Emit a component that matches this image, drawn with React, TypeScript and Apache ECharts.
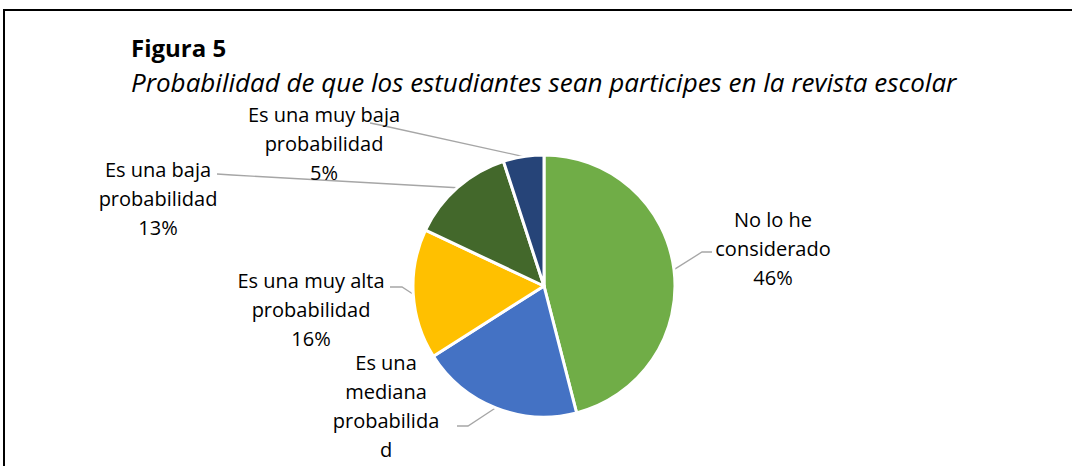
import React, { useEffect, useRef } from "react";
import * as echarts from "echarts";

const categories = [
  "No lo he considerado",
  "Es una mediana probabilidad",
  "Es una muy alta probabilidad",
  "Es una baja probabilidad",
  "Es una muy baja probabilidad",
];
const values = [46, 20, 16, 13, 5];
const labelTexts = [
  "No lo he\nconsiderado",
  "Es una\nmediana\nprobabilida\nd",
  "Es una muy alta\nprobabilidad",
  "Es una baja\nprobabilidad",
  "Es una muy baja\nprobabilidad",
];
// the reference crops the percentage of the "mediana" label off the bottom edge
const showPercent = [true, false, true, true, true];
const colors = ["#70AD47", "#4472C4", "#FFC000", "#43682B", "#264478"];
const titleText = "Figura 5";
const subtitleText =
  "Probabilidad de que los estudiantes sean participes en la revista escolar";

// label block centres and leader-line bends (layout only)
const labelPos = [
  [773, 248],
  [386, 406],
  [311, 309],
  [158, 198],
  [324, 143],
];
const lineBends = [
  [[702, 252], [712, 252]],
  [[468, 426], [457, 426]],
  [[402, 287], [390, 287]],
  [[232, 175], [217, 174]],
  [[380, 125], [370, 123]],
];

const FONT = "'Open Sans', 'Noto Sans', sans-serif";

export default function App() {
  const ref = useRef<HTMLDivElement>(null);
  useEffect(() => {
    if (!ref.current) return;
    const chart = echarts.init(ref.current, undefined, { renderer: "svg" });
    chart.setOption({
      animation: false,
      backgroundColor: "#ffffff",
      graphic: [
        {
          type: "polyline",
          shape: { points: [[4, 470], [4, 10], [1080, 10]] },
          style: { stroke: "#000", lineWidth: 2, fill: null },
          silent: true,
        },
        {
          type: "text",
          x: 131,
          y: 47,
          style: {
            text: titleText,
            font: `bold 24px ${FONT}`,
            fill: "#000",
            verticalAlign: "middle",
          },
        },
        {
          type: "text",
          x: 131,
          y: 82,
          style: {
            text: subtitleText,
            font: `italic 26px ${FONT}`,
            fill: "#000",
            verticalAlign: "middle",
          },
        },
      ],
      series: [
        {
          type: "pie",
          center: [544, 286],
          radius: 131,
          startAngle: 90,
          clockwise: true,
          avoidLabelOverlap: false,
          emphasis: { disabled: true },
          itemStyle: { borderColor: "#ffffff", borderWidth: 3 },
          label: {
            show: true,
            position: "outside",
            fontFamily: FONT,
            fontSize: 20,
            lineHeight: 29,
            color: "#000",
            align: "center",
            formatter: (p: any) =>
              showPercent[p.dataIndex]
                ? `${labelTexts[p.dataIndex]}\n${p.value}%`
                : labelTexts[p.dataIndex],
          },
          labelLine: {
            show: true,
            length: 10,
            length2: 10,
            lineStyle: { color: "#A6A6A6", width: 1.3 },
          },
          labelLayout: (params: any) => {
            const i = params.dataIndex;
            const start =
              params.labelLinePoints && params.labelLinePoints[0]
                ? params.labelLinePoints[0]
                : null;
            const res: any = {
              x: labelPos[i][0],
              y: labelPos[i][1],
              align: "center",
              verticalAlign: "middle",
            };
            if (start) res.labelLinePoints = [start, lineBends[i][0], lineBends[i][1]];
            return res;
          },
          data: categories.map((name, i) => ({
            name,
            value: values[i],
            itemStyle: { color: colors[i] },
          })),
        },
      ],
    });
    return () => chart.dispose();
  }, []);
  return (
    <div
      ref={ref}
      style={{ position: "fixed", left: 0, top: 0, width: 1072, height: 466 }}
    />
  );
}
